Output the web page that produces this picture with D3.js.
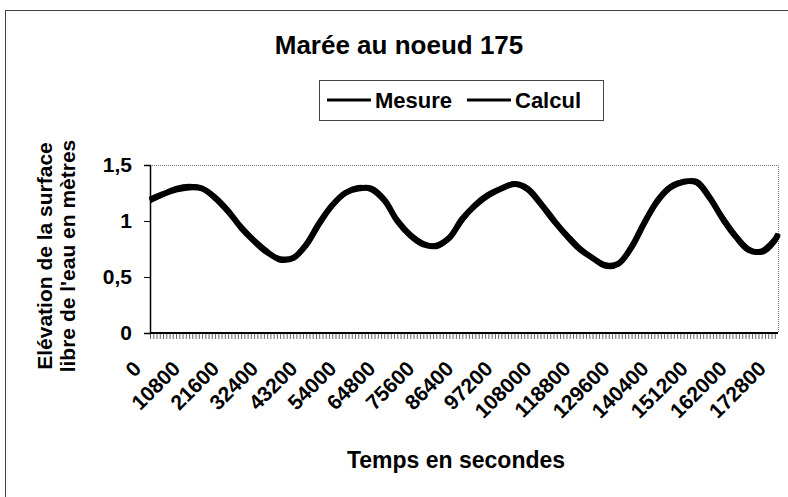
<!DOCTYPE html>
<html>
<head>
<meta charset="utf-8">
<script src="https://cdn.jsdelivr.net/npm/d3@7"></script>
<style>
  body { margin: 0; background: #fff; }
  text { font-family: "Liberation Sans", Arial, sans-serif; font-weight: bold; fill: #000; }
</style>
</head>
<body>
<div id="chart"></div>
<script>
// Marée au noeud 175 - mesure vs calcul

// temps en secondes
const temps = [0, 3600, 7200, 10800, 14400, 18000, 21600, 25200, 28800, 32400,
  36000, 39600, 43200, 46800, 50400, 54000, 57600, 61200, 64800, 68400,
  72000, 75600, 79200, 82800, 86400, 90000, 93600, 97200, 100800, 104400,
  108000, 111600, 115200, 118800, 122400, 126000, 129600, 133200, 136800, 140400,
  144000, 147600, 151200, 154800, 158400, 162000, 165600, 169200, 172800, 173700];

// elevation mesuree (m)
const mesure = [1.19, 1.24, 1.28, 1.30, 1.29, 1.21, 1.09, 0.94, 0.82, 0.72,
  0.66, 0.67, 0.79, 0.98, 1.14, 1.25, 1.29, 1.29, 1.19, 1.00,
  0.87, 0.79, 0.78, 0.85, 1.02, 1.14, 1.23, 1.29, 1.33, 1.29,
  1.16, 1.01, 0.87, 0.75, 0.67, 0.60, 0.62, 0.77, 0.99, 1.18,
  1.30, 1.35, 1.35, 1.21, 1.02, 0.86, 0.74, 0.73, 0.83, 0.88];

// elevation calculee (m)
const calcul = [1.18, 1.24, 1.29, 1.31, 1.29, 1.20, 1.08, 0.95, 0.83, 0.73,
  0.65, 0.67, 0.78, 0.97, 1.14, 1.25, 1.30, 1.28, 1.18, 1.01,
  0.88, 0.80, 0.77, 0.85, 1.01, 1.15, 1.24, 1.29, 1.33, 1.28,
  1.15, 1.00, 0.88, 0.76, 0.67, 0.61, 0.62, 0.76, 0.98, 1.19,
  1.31, 1.35, 1.34, 1.20, 1.03, 0.87, 0.75, 0.72, 0.82, 0.89];

const xLabels = [0, 10800, 21600, 32400, 43200, 54000, 64800, 75600, 86400,
  97200, 108000, 118800, 129600, 140400, 151200, 162000, 172800];
const yTicks = [0, 0.5, 1, 1.5];

const W = 788, H = 497;
const plot = {left: 150, right: 778, top: 165, bottom: 333};

const svg = d3.select("#chart").append("svg")
    .attr("width", W)
    .attr("height", H);

// cadre exterieur
svg.append("rect")
    .attr("x", 5.5).attr("y", 10.5)
    .attr("width", 800).attr("height", 500)
    .attr("fill", "none")
    .attr("stroke", "#444")
    .attr("stroke-width", 1);

const x = d3.scaleLinear()
    .domain([0, 173700])
    .range([plot.left, plot.right]);

const y = d3.scaleLinear()
    .domain([0, 1.5])
    .range([plot.bottom, plot.top]);

// bordure pointillee haut / droite
svg.append("path")
    .attr("d", `M${plot.left},${plot.top + 0.5}H${plot.right + 0.5}V${plot.bottom}`)
    .attr("fill", "none")
    .attr("stroke", "#777")
    .attr("stroke-width", 1)
    .attr("stroke-dasharray", "1,1");

// petites graduations denses sur l'axe x
svg.append("g")
    .attr("transform", `translate(0, ${plot.bottom})`)
    .call(d3.axisBottom(x).tickValues(d3.range(0, 173700, 900)).tickSize(6).tickFormat(""))
    .call(g => g.selectAll(".tick line").attr("stroke", "#666"))
    .call(g => g.select(".domain").remove());

// labels x
svg.append("g")
    .attr("transform", `translate(0, ${plot.bottom})`)
    .call(d3.axisBottom(x).tickValues(xLabels).tickSize(0).tickFormat(d => d))
    .call(g => g.select(".domain").remove())
    .selectAll("text")
      .style("font-size", "21px")
      .attr("text-anchor", "end")
      .attr("dy", null)
      .attr("y", 0)
      .attr("transform", "translate(-8, 37) rotate(-45)");

// axe x
svg.append("line")
    .attr("x1", plot.left).attr("x2", plot.right)
    .attr("y1", plot.bottom).attr("y2", plot.bottom)
    .attr("stroke", "#000")
    .attr("stroke-width", 2);

// axe y
svg.append("g")
    .attr("transform", `translate(${plot.left}, 0)`)
    .call(d3.axisLeft(y).tickValues(yTicks).tickSize(6).tickPadding(12)
      .tickFormat(d => String(d).replace(".", ",")))
    .call(g => g.select(".domain").attr("stroke", "#000").attr("stroke-width", 1.5))
    .call(g => g.selectAll(".tick line").attr("stroke", "#000"))
    .selectAll("text")
      .style("font-size", "21px");

// courbes
const line = d3.line()
    .x((d, i) => x(temps[i]))
    .y(d => y(d))
    .curve(d3.curveCatmullRom);

svg.append("path")
    .datum(mesure)
    .attr("d", line)
    .attr("fill", "none")
    .attr("stroke", "#000")
    .attr("stroke-width", 6)
    .attr("stroke-linejoin", "round");

svg.append("path")
    .datum(calcul)
    .attr("d", line)
    .attr("fill", "none")
    .attr("stroke", "#000")
    .attr("stroke-width", 5)
    .attr("stroke-linejoin", "round");

// titre
svg.append("text")
    .attr("x", 399)
    .attr("y", 54)
    .attr("text-anchor", "middle")
    .style("font-size", "26px")
    .text("Marée au noeud 175");

// legende
const leg = svg.append("g");
leg.append("rect")
    .attr("x", 319.5).attr("y", 80.5)
    .attr("width", 284).attr("height", 40)
    .attr("fill", "#fff")
    .attr("stroke", "#444");
const legItems = [
  {name: "Mesure", x0: 327},
  {name: "Calcul", x0: 467}
];
legItems.forEach(it => {
  leg.append("line")
      .attr("x1", it.x0).attr("x2", it.x0 + 44)
      .attr("y1", 100).attr("y2", 100)
      .attr("stroke", "#000")
      .attr("stroke-width", 3);
  leg.append("text")
      .attr("x", it.x0 + 48)
      .attr("y", 108)
      .style("font-size", "22px")
      .text(it.name);
});

// titre axe y
const yTitle = svg.append("text")
    .attr("transform", "translate(52, 256) rotate(-90)")
    .attr("text-anchor", "middle")
    .style("font-size", "21px");
yTitle.append("tspan").attr("x", 0).attr("dy", 0).text("Elévation de la surface");
yTitle.append("tspan").attr("x", 0).attr("dy", 23).text("libre de l'eau en mètres");

// titre axe x
svg.append("text")
    .attr("x", 456)
    .attr("y", 468)
    .attr("text-anchor", "middle")
    .style("font-size", "23px")
    .text("Temps en secondes");
</script>
</body>
</html>
